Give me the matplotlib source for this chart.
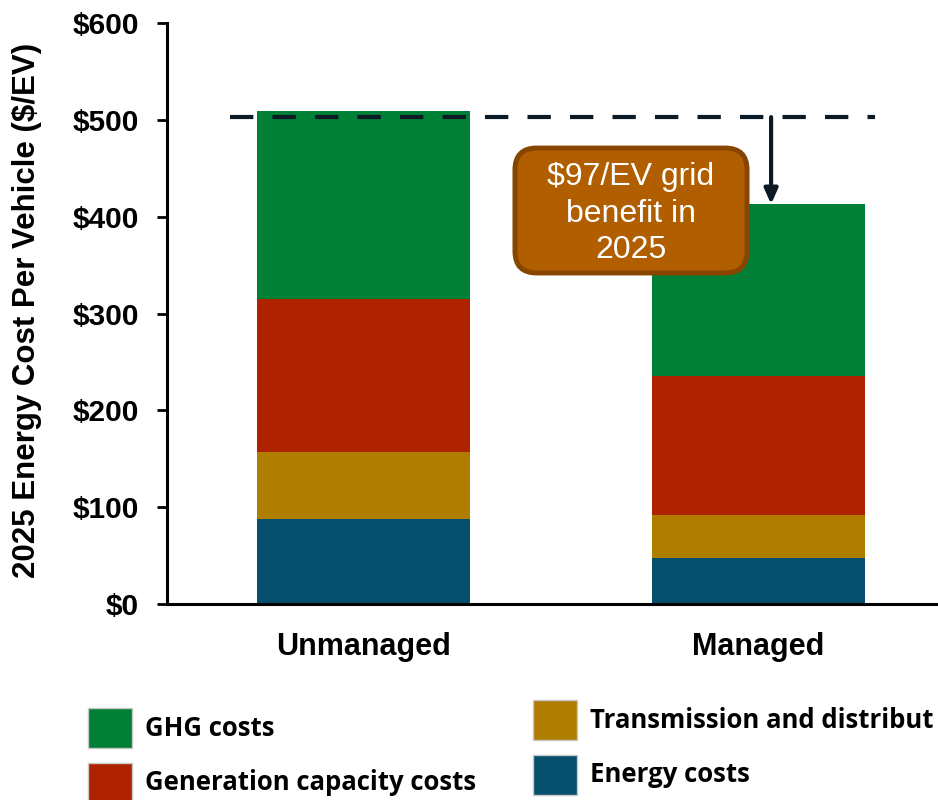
import matplotlib
matplotlib.use("Agg")
import matplotlib.pyplot as plt
from matplotlib.patches import FancyBboxPatch, Rectangle
from matplotlib.ticker import FuncFormatter

# data ($/EV in 2025)
scenarios = ["Unmanaged", "Managed"]
energy_costs = [88, 48]
td_costs = [69, 44]
gen_capacity_costs = [158, 144]
ghg_costs = [194, 177]
baseline_level = 503
benefit_label = "$97/EV grid\nbenefit in\n2025"

series = [
    ("Energy costs", energy_costs, "#054F6D"),
    ("Transmission and distribution costs", td_costs, "#AF7D00"),
    ("Generation capacity costs", gen_capacity_costs, "#AF2200"),
    ("GHG costs", ghg_costs, "#007F36"),
]

plt.rcParams["font.family"] = ["Liberation Sans", "DejaVu Sans"]

fig = plt.figure(figsize=(9.38, 8), dpi=100)
ax = fig.add_axes([0.178, 0.245, 0.822, 0.726])

x = list(range(len(scenarios)))
bottom = [0] * len(scenarios)
for name, vals, color in series:
    ax.bar(x, vals, width=0.54, bottom=bottom, color=color, label=name,
           edgecolor="none", zorder=2)
    bottom = [b + v for b, v in zip(bottom, vals)]
totals = bottom

ax.set_xlim(-0.498, 1.456)
ax.set_ylim(0, 600)
ax.set_yticks(range(0, 601, 100))
ax.yaxis.set_major_formatter(FuncFormatter(lambda v, _: f"${v:.0f}"))
ax.set_xticks(x)
ax.set_xticklabels(scenarios)

for lab in ax.get_yticklabels() + ax.get_xticklabels():
    lab.set_fontweight("bold")
ax.tick_params(axis="y", labelsize=21.5, length=7, width=2, pad=13, colors="black")
ax.tick_params(axis="x", labelsize=22, length=0, pad=20)

for side in ("top", "right"):
    ax.spines[side].set_visible(False)
ax.spines["left"].set_linewidth(2.2)
ax.spines["bottom"].set_linewidth(2.2)

ylab = ax.set_ylabel("2025 Energy Cost Per Vehicle ($/EV)", fontsize=22.5,
                     fontweight="bold")
ylab.set_va("center")
ax.yaxis.set_label_coords(-0.181, 0.505)

# dashed reference level of the unmanaged case
line, = ax.plot([-0.338, 1.297], [baseline_level, baseline_level], color="#0B1A24",
                linewidth=3, zorder=3)
line.set_dashes((5.6, 4.6))

# arrow down to the managed total
ax.annotate("", xy=(1.033, totals[1]), xytext=(1.033, baseline_level),
            arrowprops=dict(arrowstyle="-|>,head_width=0.4,head_length=0.9",
                            color="#0B1A24", lw=3, shrinkA=0, shrinkB=0),
            zorder=4)

# callout box
x_scale = 394.5 / 0.968
box = FancyBboxPatch((0.384, 342), 0.588, 129,
                     boxstyle="round,pad=0,rounding_size=0.055",
                     mutation_aspect=x_scale, facecolor="#B05E00",
                     edgecolor="#884500", linewidth=3.6, zorder=5)
ax.add_patch(box)
ax.text(0.678, 403, benefit_label, ha="center", va="center", color="white",
        fontsize=23, linespacing=1.28, zorder=6)

# legend drawn by hand to keep the staggered layout
# (the reference cuts the third entry at the right edge)
legend_font = ["Liberation Sans Narrow", "Open Sans", "DejaVu Sans"]
legend_items = [
    ("GHG costs", "#007F36", 88, 708),
    ("Generation capacity costs", "#AF2200", 88, 763),
    ("Transmission and distribut", "#AF7D00", 533, 700),
    ("Energy costs", "#054F6D", 533, 755),
]
W, H = 938, 800
for text, color, px, py in legend_items:
    fig.patches.append(Rectangle((px / W, 1 - (py + 40) / H), 44 / W, 40 / H,
                                 transform=fig.transFigure, facecolor=color,
                                 edgecolor="#C8C8C8", linewidth=1))
    fig.text((px + 57) / W, 1 - (py + 20) / H, text, fontsize=18.5,
             fontweight="bold", family=legend_font, va="center", ha="left")

fig.savefig("out.png", dpi=100)
